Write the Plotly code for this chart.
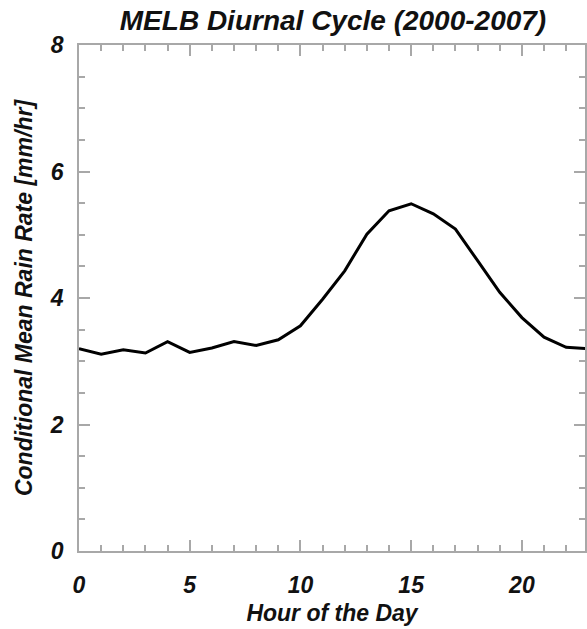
import plotly.graph_objects as go

hours = list(range(24))
rain_rate = [3.20, 3.11, 3.18, 3.13, 3.31, 3.14, 3.21, 3.31, 3.25, 3.34,
             3.56, 3.98, 4.43, 5.01, 5.38, 5.49, 5.33, 5.09, 4.59, 4.09,
             3.69, 3.38, 3.22, 3.20]

title_text = "MELB Diurnal Cycle (2000-2007)"
x_title = "Hour of the Day"
y_title = "Conditional Mean Rain Rate [mm/hr]"
x_ticks = [0, 5, 10, 15, 20]
y_ticks = [0, 2, 4, 6, 8]

FONT = "Liberation Sans, Arial, Helvetica, sans-serif"

fig = go.Figure()
fig.add_trace(go.Scatter(x=hours, y=rain_rate, mode="lines",
                         line=dict(color="black", width=3), showlegend=False))

axis_common = dict(
    showline=True, linecolor="#a8a8a8", linewidth=1.5,
    ticks="inside", tickcolor="#a8a8a8", tickwidth=1.5, ticklen=11,
    mirror="ticks", showgrid=False, zeroline=False,
    tickfont=dict(family=FONT, size=23, color="#111", weight="bold", style="italic"),
)

fig.update_layout(
    width=587, height=629,
    margin=dict(l=79, r=0, t=45, b=78, pad=0),
    paper_bgcolor="white", plot_bgcolor="white",
    title=dict(text=title_text, x=(79 + 587) / 2 / 587, xanchor="center",
               y=1 - 20 / 629, yanchor="middle",
               font=dict(family=FONT, size=28, color="#111", weight="bold", style="italic")),
    xaxis=dict(range=[0, 22.85], tickvals=x_ticks, ticklabelstandoff=13,
               minor=dict(dtick=1, ticks="inside", ticklen=6, tickcolor="#a8a8a8", tickwidth=1.5),
               title=dict(text=x_title, standoff=8,
                          font=dict(family=FONT, size=23, color="#111", weight="bold", style="italic")),
               **axis_common),
    yaxis=dict(range=[0, 8], tickvals=y_ticks, ticklabelstandoff=9,
               minor=dict(dtick=0.5, ticks="inside", ticklen=6, tickcolor="#a8a8a8", tickwidth=1.5),
               title=dict(text=y_title, standoff=11,
                          font=dict(family=FONT, size=23, color="#111", weight="bold", style="italic")),
               **axis_common),
)

fig.write_html("out.html", config={"displayModeBar": False},
               post_script="document.body.style.margin='0';document.body.style.overflow='hidden';")
